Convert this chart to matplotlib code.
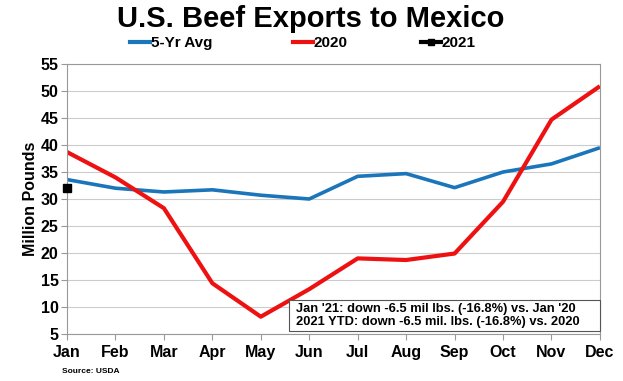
import matplotlib.pyplot as plt
from matplotlib.lines import Line2D
from matplotlib.patches import Rectangle

plt.rcParams['font.family'] = ['Liberation Sans', 'DejaVu Sans']

months = ['Jan', 'Feb', 'Mar', 'Apr', 'May', 'Jun',
          'Jul', 'Aug', 'Sep', 'Oct', 'Nov', 'Dec']
avg_5yr = [33.6, 32.0, 31.3, 31.7, 30.7, 30.0, 34.2, 34.7, 32.1, 35.0, 36.5, 39.5]
y2020 = [38.7, 34.0, 28.3, 14.4, 8.2, 13.3, 19.0, 18.7, 19.9, 29.5, 44.7, 50.9]
y2021 = [32.1]

blue = '#1a75bb'
red = '#ee1111'

W, H = 623, 381
fig = plt.figure(figsize=(6.23, 3.81), dpi=100)
ax = fig.add_axes([0.1075, 0.1234, 0.8555, 0.7086])

x = list(range(len(months)))
ax.plot(x, avg_5yr, color=blue, lw=2.6, solid_capstyle='butt')
ax.plot(x, y2020, color=red, lw=3.0, solid_capstyle='butt')
ax.plot(x[:len(y2021)], y2021, color='black', marker='s', ms=6, lw=0,
        clip_on=False, zorder=5)

ax.set_xlim(0, 11)
ax.set_ylim(5, 55)
ax.set_yticks(range(5, 56, 5))
ax.set_xticks(x)
ax.set_xticklabels(months, fontsize=11.5, fontweight='bold')
ax.tick_params(axis='y', labelsize=11.5, length=4, color='#999999', pad=2)
ax.tick_params(axis='x', length=4, color='#999999', pad=4)
for lbl in ax.get_yticklabels():
    lbl.set_fontweight('bold')
ax.grid(axis='y', color='#cccccc', lw=0.8)
for s in ax.spines.values():
    s.set_color('#999999')
    s.set_linewidth(0.8)
ax.set_ylabel('Million Pounds', fontsize=11.5, fontweight='bold', labelpad=2)

fig.text(0.498, 1 - 27 / H, 'U.S. Beef Exports to Mexico', ha='center',
         va='baseline', fontsize=21, fontweight='bold')

# legend entries placed individually to match uneven spacing
entries = [
    (Line2D([], [], color=blue, lw=3), '5-Yr Avg', 130),
    (Line2D([], [], color=red, lw=3), '2020', 293),
    (Line2D([], [], color='black', lw=3, marker='s', ms=4), '2021', 421),
]
for h, lab, px in entries:
    fig.legend([h], [lab], loc='center left',
               bbox_to_anchor=(px / W, 1 - 43 / H), frameon=False,
               prop={'weight': 'bold', 'size': 11},
               handlelength=1.3, handletextpad=0.05,
               borderpad=0, borderaxespad=0)

# note box
fig.patches.append(Rectangle((289 / W, 1 - 331 / H), 311 / W, 31 / H,
                             transform=fig.transFigure, fc='white',
                             ec='#555555', lw=0.8, zorder=3))
fig.text(296 / W, 1 - 315.5 / H,
         "Jan '21: down -6.5 mil lbs. (-16.8%) vs. Jan '20\n"
         "2021 YTD: down -6.5 mil. lbs. (-16.8%) vs. 2020",
         ha='left', va='center', fontsize=9.3, zorder=4,
         fontweight='bold', linespacing=1.15)

fig.text(0.1, 0.025, 'Source: USDA', fontsize=6, fontweight='bold', va='center')

fig.savefig('out.png', dpi=100)
